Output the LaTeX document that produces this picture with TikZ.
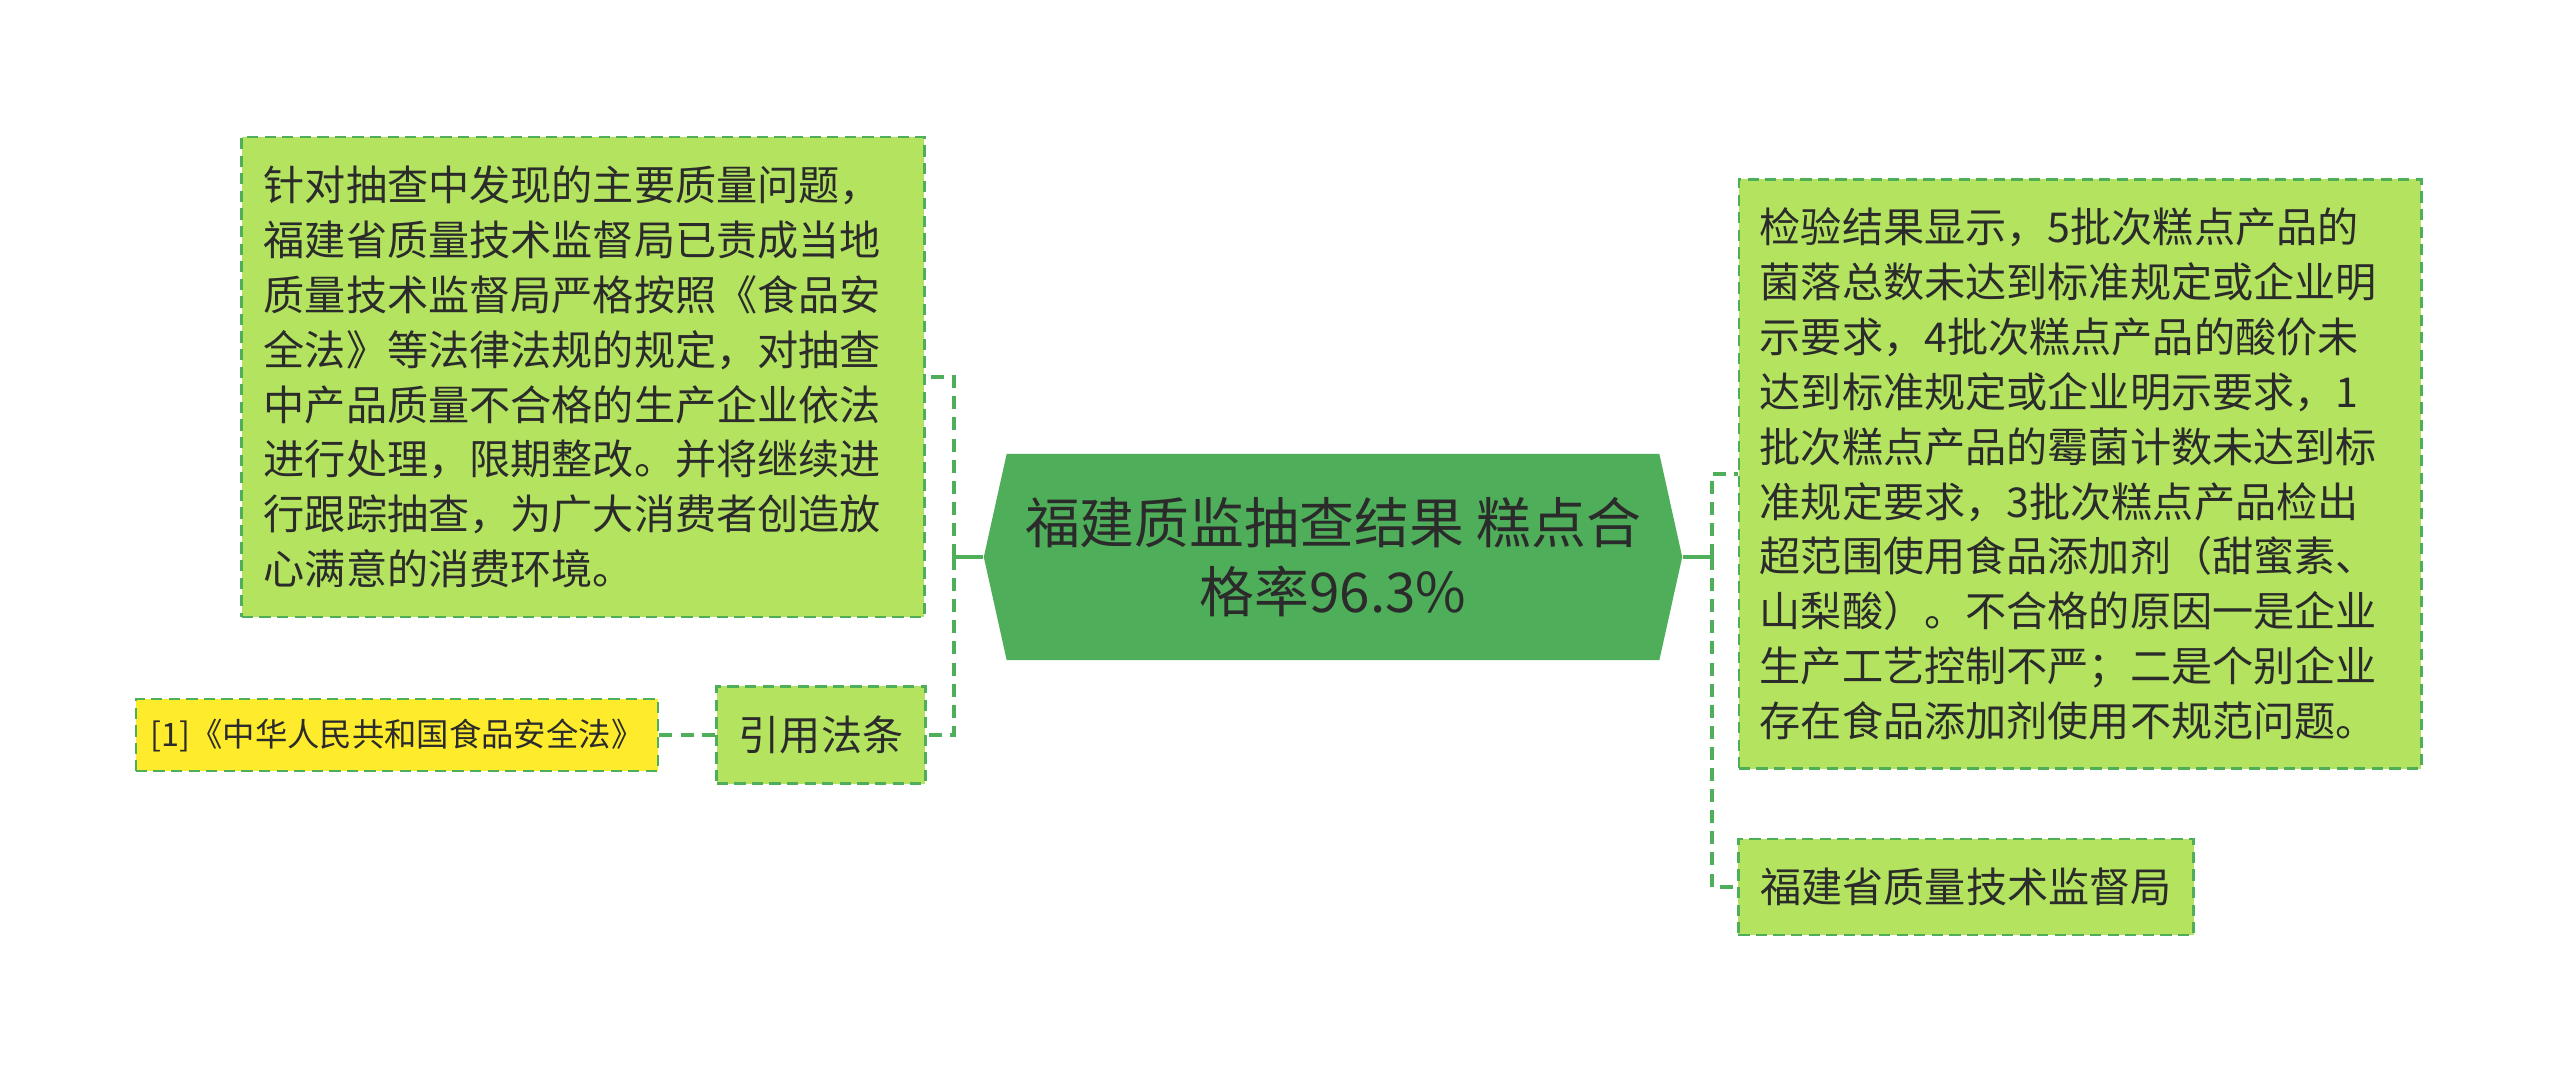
\documentclass[tikz,border=0pt]{standalone}
\usepackage{fontspec}
\setmainfont{Noto Sans CJK SC}
\usetikzlibrary{shapes.symbols}
\definecolor{rootgreen}{HTML}{4FAE5A}
\definecolor{leafgreen}{HTML}{B3E35F}
\definecolor{refyellow}{HTML}{FDEB2C}
\definecolor{inkgray}{HTML}{2B2B2B}

\begin{document}
\begin{tikzpicture}[x=0.01cm,y=-0.01cm,font=\fontsize{11.7}{15.6}\selectfont,
  leaf/.style={draw=rootgreen,dash pattern=on 3.2pt off 1.8pt,line width=0.75pt,
    fill=leafgreen,text=inkgray,inner xsep=0.22cm,inner ysep=0pt},
  link/.style={draw=rootgreen,line width=1.1pt},
  dashlink/.style={link,dash pattern=on 3.7pt off 2.3pt}]
  \fill[white] (0,0) rectangle (2560,1072);
  % central topic
  \node[signal,signal to=west and east,signal pointer angle=155,fill=rootgreen,
    text=inkgray,minimum width=6.98cm,minimum height=2.06cm,align=center,
    font=\fontsize{15.6}{19.5}\selectfont] (root) at (1333,557)
    {福建质监抽查结果 糕点合\\格率96.3\%};
  % left branch
  \node[leaf,text width=6.38cm,minimum height=4.80cm,align=left] (note) at (583,377)
    {针对抽查中发现的主要质量问题，\\福建省质量技术监督局已责成当地\\质量技术监督局严格按照《食品安\\全法》等法律法规的规定，对抽查\\中产品质量不合格的生产企业依法\\进行处理，限期整改。并将继续进\\行跟踪抽查，为广大消费者创造放\\心满意的消费环境。};
  \node[leaf,minimum width=2.06cm,minimum height=0.97cm] (cite) at (821,735) {引用法条};
  \node[leaf,fill=refyellow,minimum width=5.22cm,minimum height=0.72cm,inner xsep=0.1cm,
    font=\fontsize{9.2}{10}\selectfont] (ref) at (397,735) {[1]《中华人民共和国食品安全法》};
  % right branch
  \node[leaf,text width=6.40cm,minimum height=5.89cm,align=left,inner xsep=0.21cm] (result) at (2080,474)
    {检验结果显示，5批次糕点产品的\\菌落总数未达到标准规定或企业明\\示要求，4批次糕点产品的酸价未\\达到标准规定或企业明示要求，1\\批次糕点产品的霉菌计数未达到标\\准规定要求，3批次糕点产品检出\\超范围使用食品添加剂（甜蜜素、\\山梨酸）。不合格的原因一是企业\\生产工艺控制不严；二是个别企业\\存在食品添加剂使用不规范问题。};
  \node[leaf,minimum width=4.54cm,minimum height=0.96cm] (bureau) at (1966,887) {福建省质量技术监督局};
  % connectors
  \draw[link] (root.west) -- ++(-29,0) coordinate (ljoin);
  \draw[dashlink] (ljoin) |- (note.east);
  \draw[dashlink] (ljoin) |- (cite.east);
  \draw[dashlink] (ref.east) -- (cite.west);
  \draw[link] (root.east) -- ++(29,0) coordinate (rjoin);
  \draw[dashlink] (rjoin) |- (result.west);
  \draw[dashlink] (rjoin) |- (bureau.west);
\end{tikzpicture}
\end{document}
